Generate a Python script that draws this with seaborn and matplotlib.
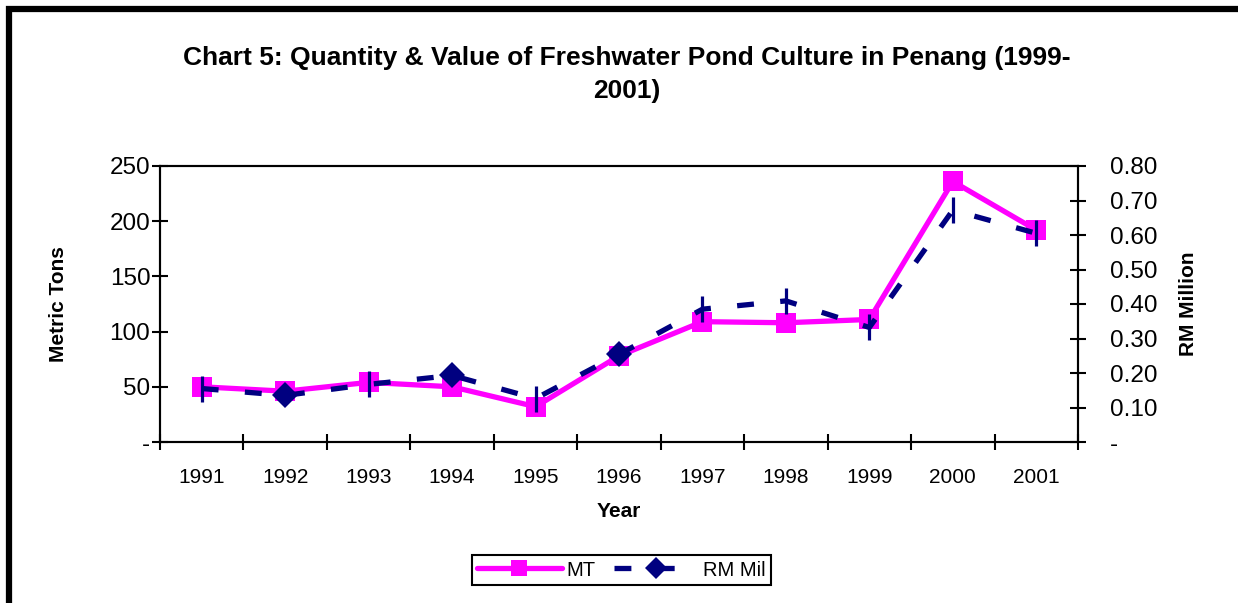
import matplotlib
matplotlib.use("Agg")
import matplotlib.pyplot as plt
import seaborn as sns
import pandas as pd
from matplotlib.lines import Line2D
from matplotlib.patches import Rectangle
from matplotlib.ticker import FixedLocator, FuncFormatter

# Freshwater pond culture in Penang
years = [1991, 1992, 1993, 1994, 1995, 1996, 1997, 1998, 1999, 2000, 2001]
metric_tons = [50, 46, 54, 50, 32, 78, 109, 108, 111, 236, 192]
rm_million = [0.155, 0.135, 0.167, 0.193, 0.126, 0.254, 0.385, 0.409, 0.332, 0.672, 0.605]

left_ticks = [0, 50, 100, 150, 200, 250]
right_ticks = [0.0, 0.1, 0.2, 0.3, 0.4, 0.5, 0.6, 0.7, 0.8]

title = "Chart 5: Quantity & Value of Freshwater Pond Culture in Penang (1999-\n2001)"

MAGENTA = "#FF00FF"
NAVY = "#000080"

sns.set_theme(style="white")
plt.rcParams["font.family"] = ["Liberation Sans", "DejaVu Sans"]
plt.rcParams["text.color"] = "black"
plt.rcParams["axes.labelcolor"] = "black"
plt.rcParams["xtick.color"] = "black"
plt.rcParams["ytick.color"] = "black"

df = pd.DataFrame({"Year": years, "MT": metric_tons, "RM Mil": rm_million})

W, H = 1238, 603
fig = plt.figure(figsize=(W / 100, H / 100), dpi=100)
fig.patch.set_facecolor("white")

# outer chart frame (left and top edges visible)
fig.patches.append(Rectangle((8.5 / W, -1.0), 2.0, 2.0 - 8.5 / H, transform=fig.transFigure,
                             fill=False, edgecolor="black", linewidth=4.5, zorder=0))

ax = fig.add_axes([160 / W, 1 - 442 / H, 918 / W, 276 / H])
ax2 = ax.twinx()

# quantity series
sns.lineplot(data=df, x="Year", y="MT", ax=ax, color=MAGENTA, linewidth=3.8,
             marker="s", markersize=15, markeredgewidth=0, zorder=3)

# value series: dashed navy line with diamond markers on alternate early years
sns.lineplot(data=df, x="Year", y="RM Mil", ax=ax2, color=NAVY, linewidth=3.8,
             marker="D", markersize=13, markeredgewidth=0, markevery=[1, 3, 5], zorder=4)
ax2.lines[0].set_dashes((3.2, 5.0))
tick_idx = [i for i in range(len(years)) if i not in (1, 3, 5)]
ax2.plot([years[i] for i in tick_idx], [rm_million[i] for i in tick_idx], ls="none",
         marker="|", markersize=19, markeredgewidth=2.3, color=NAVY, zorder=5)

# x axis: categories with ticks between them
ax.set_xlim(years[0] - 0.5, years[-1] + 0.5)
ax.xaxis.set_major_locator(FixedLocator(years))
ax.set_xticklabels([str(y) for y in years])
ax.xaxis.set_minor_locator(FixedLocator([y - 0.5 for y in years] + [years[-1] + 0.5]))
ax.tick_params(axis="x", which="major", length=0, pad=19, labelsize=15, colors="black")
ax.tick_params(axis="x", which="minor", direction="inout", length=12, width=1.5,
               bottom=True, color="black")

# left axis
ax.set_ylim(0, 250)
ax.yaxis.set_major_locator(FixedLocator(left_ticks))
ax.yaxis.set_major_formatter(FuncFormatter(lambda v, p: "-" if v == 0 else f"{v:.0f}"))
ax.tick_params(axis="y", direction="inout", length=12, width=1.5, pad=1,
               labelsize=17.5, left=True, color="black", labelcolor="black")

# right axis
ax2.set_ylim(0, 0.8)
ax2.yaxis.set_major_locator(FixedLocator(right_ticks))
ax2.yaxis.set_major_formatter(FuncFormatter(lambda v, p: "-" if abs(v) < 1e-9 else f"{v:.2f}"))
ax2.tick_params(axis="y", direction="inout", length=12, width=1.5, pad=17,
                labelsize=17.5, right=True, color="black", labelcolor="black")

for a in (ax, ax2):
    for s in a.spines.values():
        s.set_visible(True)
        s.set_color("black")
        s.set_linewidth(1.5)
    a.set_xlabel("")
    a.set_ylabel("")
    a.grid(False)

ax.text(0.5, (442 - 502) / 276, "Year", transform=ax.transAxes, ha="center", va="top",
        fontsize=15, fontweight="bold")
ax.text((59 - 160) / 918, 0.5, "Metric Tons", transform=ax.transAxes, rotation=90,
        ha="center", va="center", fontsize=15, fontweight="bold")
ax.text((1188 - 160) / 918, 0.5, "RM Million", transform=ax.transAxes, rotation=90,
        ha="center", va="center", fontsize=15, fontweight="bold")

fig.text(627 / W, 1 - 74.5 / H, title, ha="center", va="center", fontsize=19,
         fontweight="bold", linespacing=1.47, multialignment="center")

handles = [
    Line2D([], [], color=MAGENTA, linewidth=3.8, marker="s", markersize=11, markeredgewidth=0),
    Line2D([], [], color=NAVY, linewidth=3.8, dashes=(3.2, 5.0), marker="D", markersize=11,
           markeredgewidth=0),
]
leg = fig.legend(handles, ["MT", "RM Mil"], loc="center", bbox_to_anchor=(621.5 / W, 1 - 570 / H),
                 ncol=2, fontsize=14.5, frameon=True, fancybox=False, framealpha=1,
                 handlelength=4.2, handletextpad=0.25, columnspacing=0.9, borderpad=0.25,
                 borderaxespad=0)
leg.get_frame().set_edgecolor("black")
leg.get_frame().set_linewidth(1.5)

fig.savefig("out.png", dpi=100)
